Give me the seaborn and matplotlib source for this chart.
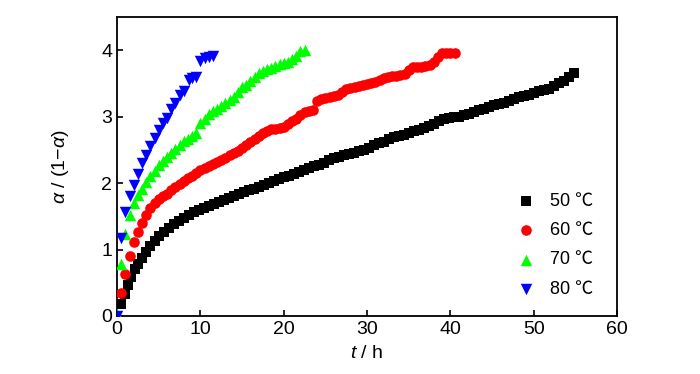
import pandas as pd
import matplotlib.pyplot as plt
import seaborn as sns

# 50 C
t50 = [0.5, 0.9, 1.3, 1.7, 2.1, 2.5, 3.0, 3.5, 4.0, 4.5, 5.0, 5.6, 6.2, 6.8, 7.4, 8.0, 8.6, 9.2, 9.8,
       10.4, 11.0, 11.6, 12.2, 12.8, 13.4, 14.0, 14.6, 15.2, 15.8, 16.4, 17.0, 17.6, 18.2, 18.8, 19.4,
       20.0, 20.6, 21.2, 21.8, 22.4, 23.0, 23.6, 24.2, 24.8, 25.4, 26.0, 26.6, 27.2, 27.8, 28.4, 29.0,
       29.6, 30.2, 30.8, 31.4, 32.0, 32.6, 33.2, 33.8, 34.4, 35.0, 35.6, 36.2, 36.8, 37.4, 38.0, 38.6,
       39.2, 39.8, 40.4, 41.0, 41.6, 42.2, 42.8, 43.4, 44.0, 44.6, 45.2, 45.8, 46.4, 47.0, 47.6, 48.2,
       48.8, 49.4, 50.0, 50.6, 51.2, 51.8, 52.4, 53.0, 53.6, 54.2, 54.8]
v50 = [0.18, 0.33, 0.47, 0.59, 0.70, 0.79, 0.88, 0.97, 1.06, 1.13, 1.20, 1.27, 1.33, 1.38, 1.43, 1.48,
       1.52, 1.56, 1.60, 1.62, 1.65, 1.68, 1.71, 1.74, 1.77, 1.80, 1.83, 1.86, 1.89, 1.91, 1.94, 1.97,
       2.00, 2.03, 2.06, 2.09, 2.11, 2.13, 2.16, 2.20, 2.23, 2.26, 2.28, 2.31, 2.35, 2.38, 2.40, 2.42,
       2.44, 2.46, 2.48, 2.50, 2.53, 2.57, 2.60, 2.62, 2.66, 2.69, 2.71, 2.73, 2.76, 2.78, 2.80, 2.83,
       2.86, 2.89, 2.93, 2.96, 2.98, 2.99, 3.00, 3.02, 3.04, 3.07, 3.10, 3.12, 3.15, 3.18, 3.19, 3.21,
       3.23, 3.26, 3.29, 3.31, 3.33, 3.35, 3.38, 3.40, 3.41, 3.46, 3.50, 3.53, 3.60, 3.65]

# 60 C
t60 = [0.5, 1.0, 1.5, 2.0, 2.5, 3.0, 3.5, 4.0, 4.5, 5.0, 5.5, 6.0, 6.5, 7.0, 7.5, 8.0, 8.5, 9.0, 9.5,
       10.0, 10.5, 11.0, 11.5, 12.0, 12.5, 13.0, 13.5, 14.0, 14.5, 15.0, 15.5, 16.0, 16.5, 17.0, 17.5,
       18.0, 18.5, 19.0, 19.5, 20.0, 20.5, 21.0, 21.5, 22.0, 22.5, 23.0, 23.5, 24.0, 24.5, 25.0, 25.5,
       26.0, 26.5, 27.0, 27.5, 28.0, 28.5, 29.0, 29.5, 30.0, 30.5, 31.0, 31.5, 32.0, 32.5, 33.0, 33.5,
       34.0, 34.5, 35.0, 35.5, 36.0, 36.5, 37.0, 37.5, 38.0, 38.5, 39.0, 39.5, 40.0, 40.5]
v60 = [0.34, 0.63, 0.90, 1.12, 1.27, 1.40, 1.52, 1.62, 1.70, 1.76, 1.80, 1.84, 1.89, 1.94, 1.99, 2.03,
       2.07, 2.10, 2.15, 2.19, 2.23, 2.26, 2.29, 2.32, 2.35, 2.38, 2.42, 2.45, 2.49, 2.53, 2.58, 2.62,
       2.66, 2.71, 2.76, 2.79, 2.81, 2.82, 2.83, 2.85, 2.89, 2.94, 2.97, 3.03, 3.07, 3.09, 3.10, 3.24,
       3.26, 3.28, 3.29, 3.31, 3.33, 3.37, 3.41, 3.43, 3.45, 3.46, 3.48, 3.49, 3.50, 3.52, 3.55, 3.58,
       3.60, 3.61, 3.61, 3.62, 3.64, 3.70, 3.74, 3.74, 3.75, 3.76, 3.78, 3.83, 3.90, 3.96, 3.96, 3.96,
       3.96]

# 70 C
t70 = [0.0, 0.5, 1.0, 1.5, 2.0, 2.5, 3.0, 3.5, 4.0, 4.5, 5.0, 5.5, 6.0, 6.5, 7.0, 7.5, 8.0, 8.5, 9.0,
       9.5, 10.0, 10.5, 11.0, 11.5, 12.0, 12.5, 13.0, 13.5, 14.0, 14.5, 15.0, 15.5, 16.0, 16.5, 17.0,
       17.5, 18.0, 18.5, 19.0, 19.5, 20.0, 20.5, 21.0, 21.5, 22.0, 22.5]
v70 = [0.03, 0.78, 1.23, 1.52, 1.70, 1.82, 1.91, 2.01, 2.10, 2.18, 2.27, 2.33, 2.40, 2.46, 2.52, 2.58,
       2.63, 2.67, 2.71, 2.76, 2.90, 2.97, 3.04, 3.08, 3.12, 3.16, 3.20, 3.25, 3.30, 3.37, 3.44, 3.48,
       3.54, 3.60, 3.65, 3.68, 3.71, 3.73, 3.76, 3.79, 3.81, 3.83, 3.87, 3.92, 3.99, 4.00]

# 80 C
t80 = [0.0, 0.5, 1.0, 1.5, 2.0, 2.5, 3.0, 3.5, 4.0, 4.5, 5.0, 5.5, 6.0, 6.5, 7.0, 7.5, 8.0, 8.6, 9.0,
       9.5, 10.0, 10.5, 11.0, 11.5]
v80 = [0.0, 1.18, 1.57, 1.80, 1.97, 2.13, 2.30, 2.43, 2.56, 2.68, 2.80, 2.90, 2.98, 3.12, 3.20, 3.33,
       3.38, 3.55, 3.58, 3.60, 3.84, 3.88, 3.90, 3.92]

labels = ["50 ℃", "60 ℃", "70 ℃", "80 ℃"]
colors = ["#000000", "#ff0000", "#00ff00", "#0000ff"]
markers = ["s", "o", "^", "v"]
sizes = [48, 58, 68, 68]

sns.set_style("ticks", {"axes.edgecolor": "black", "text.color": "black",
                        "xtick.color": "black", "ytick.color": "black",
                        "axes.labelcolor": "black"})
plt.rcParams['font.family'] = ['Liberation Sans', 'Noto Sans CJK SC', 'DejaVu Sans']
plt.rcParams['mathtext.fontset'] = 'custom'
plt.rcParams['mathtext.rm'] = 'Liberation Sans'
plt.rcParams['mathtext.it'] = 'Liberation Sans:italic'

fig = plt.figure(figsize=(7, 3.74), dpi=100)
ax = fig.add_axes([117/700, 1 - 316/374, 500/700, 299/374])

series = [(t50, v50), (t60, v60), (t70, v70), (t80, v80)]
for (t, v), lab, c, m, s in zip(series, labels, colors, markers, sizes):
    df = pd.DataFrame({"t": t, "v": v})
    sns.scatterplot(data=df, x="t", y="v", ax=ax, color=c, marker=m, s=s,
                    linewidth=0, label=lab, zorder=3)

ax.set_xlim(0, 60)
ax.set_ylim(0, 4.5)
ax.set_xticks([0, 10, 20, 30, 40, 50, 60])
ax.set_yticks([0, 1, 2, 3, 4])
ax.tick_params(direction="in", length=4.5, width=1.2, labelsize=14, top=False, right=False,
               colors="black")
for sp in ax.spines.values():
    sp.set_linewidth(1.3)
    sp.set_visible(True)
    sp.set_color("black")

ax.set_xlabel(r"$t$ / h", fontsize=14, labelpad=5)
ax.set_ylabel(r"$\alpha$ / (1" + "\u2212" + r"$\alpha$)", fontsize=14, labelpad=22)

ax.legend(loc="upper left", bbox_to_anchor=(0.80, 0.412), frameon=False, fontsize=13,
          handlelength=1.0, handletextpad=0.8, labelspacing=0.68, borderaxespad=0,
          borderpad=0, scatterpoints=1)

fig.savefig("out.png", dpi=100)
